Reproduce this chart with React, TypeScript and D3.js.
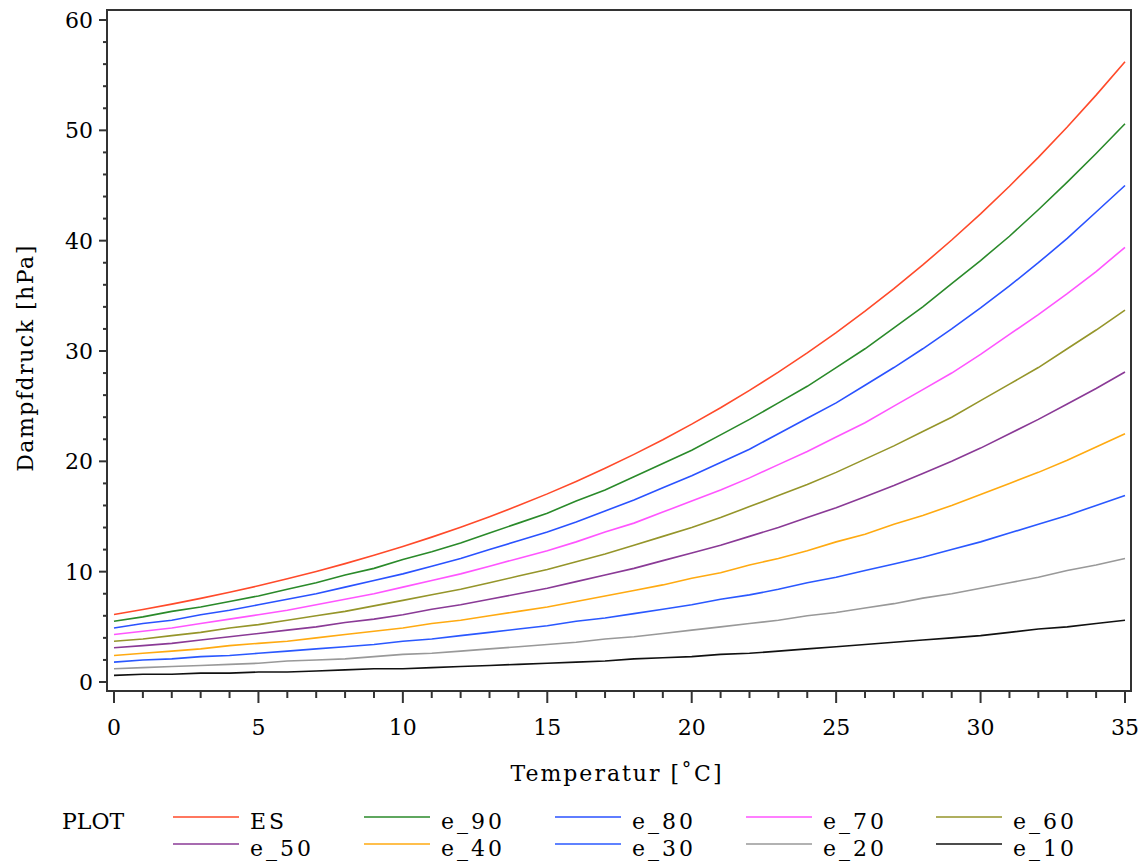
import { useEffect, useRef } from 'react';
import * as d3 from 'd3';

const temps = d3.range(0, 36);

const ES = [6.11, 6.57, 7.06, 7.58, 8.13, 8.72, 9.35, 10.02, 10.73, 11.48, 12.28, 13.13, 14.03, 14.98, 15.99, 17.05, 18.18, 19.37, 20.63, 21.96, 23.37, 24.86, 26.43, 28.08, 29.83, 31.67, 33.61, 35.65, 37.8, 40.06, 42.43, 44.93, 47.55, 50.3, 53.19, 56.22];
const e_90 = [5.5, 5.9, 6.4, 6.8, 7.3, 7.8, 8.4, 9.0, 9.7, 10.3, 11.1, 11.8, 12.6, 13.5, 14.4, 15.3, 16.4, 17.4, 18.6, 19.8, 21.0, 22.4, 23.8, 25.3, 26.8, 28.5, 30.2, 32.1, 34.0, 36.1, 38.2, 40.4, 42.8, 45.3, 47.9, 50.6];
const e_80 = [4.9, 5.3, 5.6, 6.1, 6.5, 7.0, 7.5, 8.0, 8.6, 9.2, 9.8, 10.5, 11.2, 12.0, 12.8, 13.6, 14.5, 15.5, 16.5, 17.6, 18.7, 19.9, 21.1, 22.5, 23.9, 25.3, 26.9, 28.5, 30.2, 32.0, 33.9, 35.9, 38.0, 40.2, 42.6, 45.0];
const e_70 = [4.3, 4.6, 4.9, 5.3, 5.7, 6.1, 6.5, 7.0, 7.5, 8.0, 8.6, 9.2, 9.8, 10.5, 11.2, 11.9, 12.7, 13.6, 14.4, 15.4, 16.4, 17.4, 18.5, 19.7, 20.9, 22.2, 23.5, 25.0, 26.5, 28.0, 29.7, 31.5, 33.3, 35.2, 37.2, 39.4];
const e_60 = [3.7, 3.9, 4.2, 4.5, 4.9, 5.2, 5.6, 6.0, 6.4, 6.9, 7.4, 7.9, 8.4, 9.0, 9.6, 10.2, 10.9, 11.6, 12.4, 13.2, 14.0, 14.9, 15.9, 16.9, 17.9, 19.0, 20.2, 21.4, 22.7, 24.0, 25.5, 27.0, 28.5, 30.2, 31.9, 33.7];
const e_50 = [3.1, 3.3, 3.5, 3.8, 4.1, 4.4, 4.7, 5.0, 5.4, 5.7, 6.1, 6.6, 7.0, 7.5, 8.0, 8.5, 9.1, 9.7, 10.3, 11.0, 11.7, 12.4, 13.2, 14.0, 14.9, 15.8, 16.8, 17.8, 18.9, 20.0, 21.2, 22.5, 23.8, 25.2, 26.6, 28.1];
const e_40 = [2.4, 2.6, 2.8, 3.0, 3.3, 3.5, 3.7, 4.0, 4.3, 4.6, 4.9, 5.3, 5.6, 6.0, 6.4, 6.8, 7.3, 7.8, 8.3, 8.8, 9.4, 9.9, 10.6, 11.2, 11.9, 12.7, 13.4, 14.3, 15.1, 16.0, 17.0, 18.0, 19.0, 20.1, 21.3, 22.5];
const e_30 = [1.8, 2.0, 2.1, 2.3, 2.4, 2.6, 2.8, 3.0, 3.2, 3.4, 3.7, 3.9, 4.2, 4.5, 4.8, 5.1, 5.5, 5.8, 6.2, 6.6, 7.0, 7.5, 7.9, 8.4, 9.0, 9.5, 10.1, 10.7, 11.3, 12.0, 12.7, 13.5, 14.3, 15.1, 16.0, 16.9];
const e_20 = [1.2, 1.3, 1.4, 1.5, 1.6, 1.7, 1.9, 2.0, 2.1, 2.3, 2.5, 2.6, 2.8, 3.0, 3.2, 3.4, 3.6, 3.9, 4.1, 4.4, 4.7, 5.0, 5.3, 5.6, 6.0, 6.3, 6.7, 7.1, 7.6, 8.0, 8.5, 9.0, 9.5, 10.1, 10.6, 11.2];
const e_10 = [0.6, 0.7, 0.7, 0.8, 0.8, 0.9, 0.9, 1.0, 1.1, 1.2, 1.2, 1.3, 1.4, 1.5, 1.6, 1.7, 1.8, 1.9, 2.1, 2.2, 2.3, 2.5, 2.6, 2.8, 3.0, 3.2, 3.4, 3.6, 3.8, 4.0, 4.2, 4.5, 4.8, 5.0, 5.3, 5.6];

const seriesNames = ['ES', 'e_90', 'e_80', 'e_70', 'e_60', 'e_50', 'e_40', 'e_30', 'e_20', 'e_10'];
const seriesValues = [ES, e_90, e_80, e_70, e_60, e_50, e_40, e_30, e_20, e_10];
const seriesColors = ['#ff4a2a', '#2a8a2a', '#2a52ff', '#ff55ff', '#95952a', '#8a3a96', '#ffaa11', '#2a58ff', '#999999', '#111111'];

const xTicks = [0, 5, 10, 15, 20, 25, 30, 35];
const yTicks = [0, 10, 20, 30, 40, 50, 60];

const W = 1146;
const H = 863;
const frame = { left: 107, top: 10, right: 1131, bottom: 691 };
const font = 'DejaVu Serif';

const App = () => {
  const gRef = useRef<SVGGElement>(null);

  useEffect(() => {
    const g = d3.select(gRef.current);
    g.selectAll('*').remove();

    const x = d3.scaleLinear().domain([0, 35]).range([114, 1125]);
    const y = d3.scaleLinear().domain([0, 60]).range([682, 20]);

    // frame
    g.append('rect')
      .attr('x', frame.left).attr('y', frame.top)
      .attr('width', frame.right - frame.left).attr('height', frame.bottom - frame.top)
      .attr('fill', 'none').attr('stroke', '#333').attr('stroke-width', 2);

    // x ticks, outward
    g.selectAll('.xminor')
      .data(d3.range(0, 36))
      .join('line')
      .attr('x1', d => x(d)).attr('x2', d => x(d))
      .attr('y1', frame.bottom).attr('y2', d => frame.bottom + (d % 5 === 0 ? 12 : 7))
      .attr('stroke', '#333').attr('stroke-width', 2);

    g.selectAll('.xlab')
      .data(xTicks)
      .join('text')
      .attr('x', d => x(d)).attr('y', 735)
      .attr('text-anchor', 'middle')
      .attr('font-family', font).attr('font-size', 22)
      .text(d => d);

    // y ticks, outward
    g.selectAll('.yminor')
      .data(d3.range(0, 61, 2))
      .join('line')
      .attr('x1', frame.left).attr('x2', d => frame.left - (d % 10 === 0 ? 8 : 4))
      .attr('y1', d => y(d)).attr('y2', d => y(d))
      .attr('stroke', '#333').attr('stroke-width', 2);

    g.selectAll('.ylab')
      .data(yTicks)
      .join('text')
      .attr('x', 93).attr('y', d => y(d))
      .attr('dy', '0.36em')
      .attr('text-anchor', 'end')
      .attr('font-family', font).attr('font-size', 22)
      .text(d => d);

    // lines
    const line = d3.line<number>()
      .x((_, i) => x(temps[i]))
      .y(d => y(d));

    g.selectAll('.series')
      .data(seriesValues)
      .join('path')
      .attr('fill', 'none')
      .attr('stroke', (_, i) => seriesColors[i])
      .attr('stroke-width', 1.6)
      .attr('d', d => line(d));

    // axis titles
    g.append('text')
      .attr('x', 617).attr('y', 781)
      .attr('text-anchor', 'middle')
      .attr('font-family', font).attr('font-size', 22)
      .attr('letter-spacing', 2)
      .text('Temperatur [˚C]');

    g.append('text')
      .attr('transform', 'translate(33,358) rotate(-90)')
      .attr('text-anchor', 'middle')
      .attr('font-family', font).attr('font-size', 22)
      .attr('letter-spacing', 1.5)
      .text('Dampfdruck [hPa]');

    // legend
    g.append('text')
      .attr('x', 62).attr('y', 829)
      .attr('font-family', font).attr('font-size', 22)
      .text('PLOT');

    const colX = [173, 364, 555, 746, 936];
    const rowY = [817, 844];
    const leg = g.selectAll('.leg')
      .data(seriesNames)
      .join('g')
      .attr('transform', (_, i) => `translate(${colX[i % 5]},${rowY[Math.floor(i / 5)]})`);
    leg.append('line')
      .attr('x1', 0).attr('x2', 66)
      .attr('stroke', (_, i) => seriesColors[i])
      .attr('stroke-width', 1.6);
    leg.append('text')
      .attr('x', 77).attr('y', 12)
      .attr('font-family', font).attr('font-size', 22)
      .attr('letter-spacing', 3)
      .text(d => d);
  }, []);

  return (
    <svg width={W} height={H} style={{ position: 'absolute', left: 0, top: 0, background: '#fff' }}>
      <g ref={gRef} />
    </svg>
  );
};

export default App;
